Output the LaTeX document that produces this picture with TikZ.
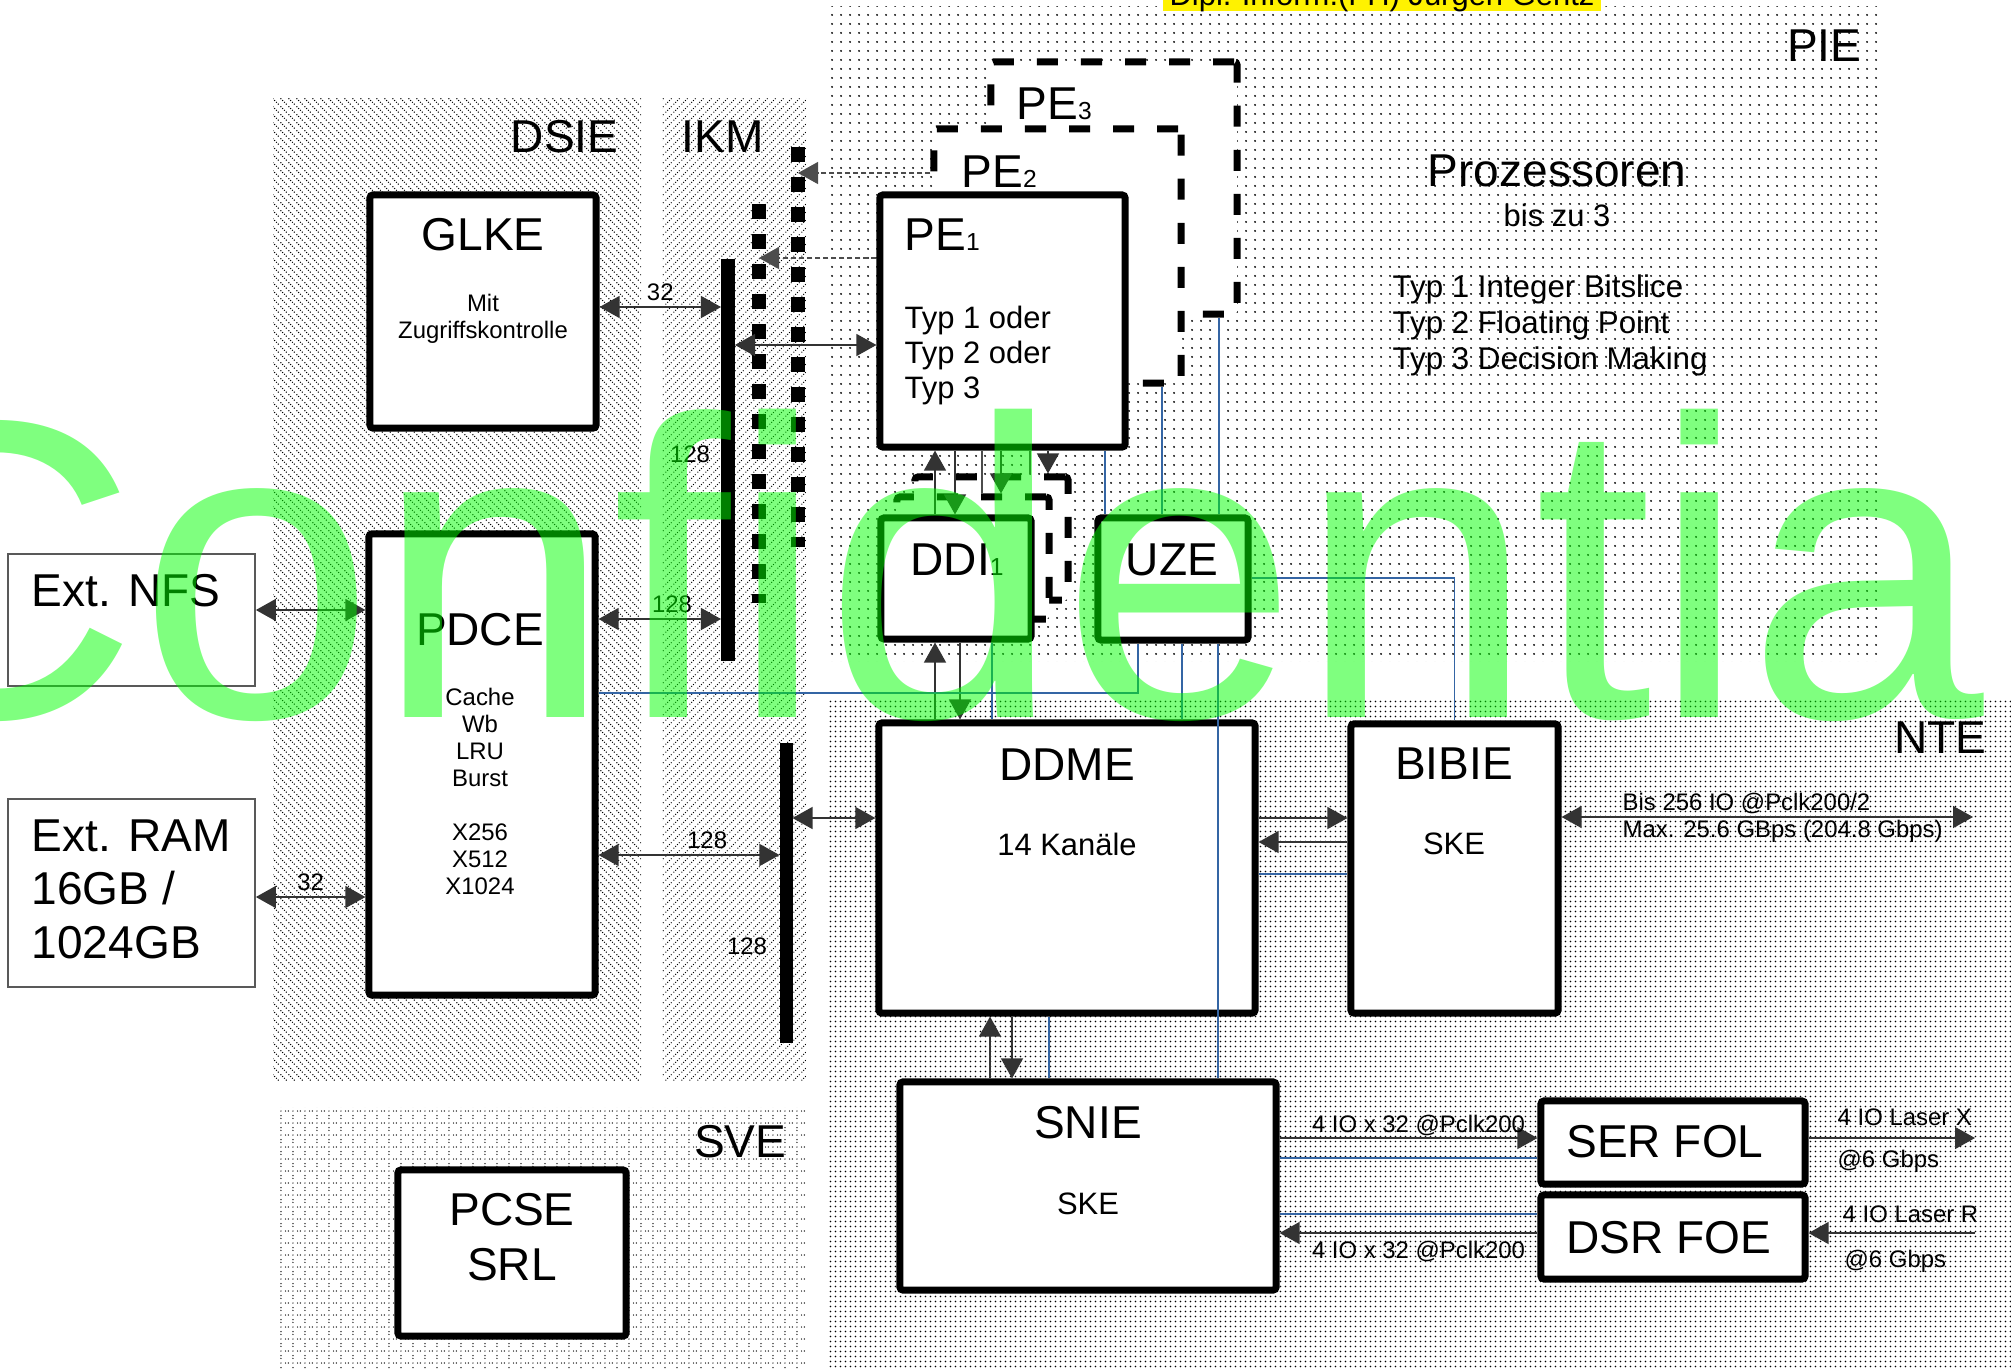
\documentclass[tikz,border=0pt]{standalone}
\usepackage{fontspec}
\setmainfont{Liberation Sans}
\usetikzlibrary{arrows.meta, patterns}
\definecolor{wireblue}{HTML}{3465A4}

% dot fills of the areas
\pgfdeclarepatternformonly{piedots}{\pgfqpoint{0pt}{0pt}}{\pgfqpoint{2.56pt}{2.56pt}}{\pgfqpoint{2.56pt}{2.56pt}}{%
  \pgfpathcircle{\pgfqpoint{1.28pt}{1.28pt}}{0.32pt}\pgfusepath{fill}}
\pgfdeclarepatternformonly{ntedots}{\pgfqpoint{0pt}{0pt}}{\pgfqpoint{1.42pt}{1.42pt}}{\pgfqpoint{1.42pt}{1.42pt}}{%
  \pgfpathcircle{\pgfqpoint{0.71pt}{0.71pt}}{0.26pt}\pgfusepath{fill}}
\pgfdeclarepatternformonly{dsiehatch}{\pgfqpoint{0pt}{0pt}}{\pgfqpoint{2.28pt}{2.28pt}}{\pgfqpoint{2.28pt}{2.28pt}}{%
  \pgfpathcircle{\pgfqpoint{0.28pt}{2.0pt}}{0.22pt}%
  \pgfpathcircle{\pgfqpoint{0.85pt}{1.43pt}}{0.22pt}%
  \pgfpathcircle{\pgfqpoint{1.42pt}{0.86pt}}{0.22pt}%
  \pgfpathcircle{\pgfqpoint{1.99pt}{0.29pt}}{0.22pt}%
  \pgfusepath{fill}}
\pgfdeclarepatternformonly{ikmhatch}{\pgfqpoint{0pt}{0pt}}{\pgfqpoint{2.28pt}{2.28pt}}{\pgfqpoint{2.28pt}{2.28pt}}{%
  \pgfpathcircle{\pgfqpoint{0.28pt}{0.28pt}}{0.22pt}%
  \pgfpathcircle{\pgfqpoint{0.85pt}{0.85pt}}{0.22pt}%
  \pgfpathcircle{\pgfqpoint{1.42pt}{1.42pt}}{0.22pt}%
  \pgfpathcircle{\pgfqpoint{1.99pt}{1.99pt}}{0.22pt}%
  \pgfusepath{fill}}
\pgfdeclarepatternformonly{svedots}{\pgfqpoint{0pt}{0pt}}{\pgfqpoint{3.4pt}{3.4pt}}{\pgfqpoint{3.4pt}{3.4pt}}{%
  \pgfpathcircle{\pgfqpoint{1.7pt}{0.4pt}}{0.2pt}%
  \pgfpathcircle{\pgfqpoint{3.0pt}{1.7pt}}{0.2pt}%
  \pgfpathcircle{\pgfqpoint{1.7pt}{3.0pt}}{0.2pt}%
  \pgfpathcircle{\pgfqpoint{0.4pt}{1.7pt}}{0.2pt}%
  \pgfpathcircle{\pgfqpoint{1.7pt}{1.7pt}}{0.2pt}%
  \pgfusepath{fill}}

\begin{document}
\begin{tikzpicture}[x=0.01cm, y=-0.01cm,
  box/.style={draw, line width=0.07cm, fill=white, rounded corners=0.03cm, inner sep=0},
  ghost/.style={box, dash pattern=on 0.21cm off 0.23cm},
  extbox/.style={draw=black!65, line width=0.45pt, fill=white, inner sep=0},
  busbar/.style={fill=black, inner sep=0, outer sep=0},
  bigtxt/.style={font=\fontsize{13.1}{15.2}\selectfont, inner sep=0},
  midtxt/.style={font=\fontsize{8.8}{10}\selectfont, inner sep=0},
  smalltxt/.style={font=\fontsize{6.8}{7.7}\selectfont, inner sep=0},
  link/.style={draw=black!80, line width=0.4pt, -{Triangle[length=2mm,width=2.2mm]}},
  duplex/.style={link, {Triangle[length=2mm,width=2.2mm]}-{Triangle[length=2mm,width=2.2mm]}},
  bare/.style={draw=black!70, line width=0.4pt},
  tap/.style={draw=black!70, line width=0.35pt, dash pattern=on 0.05cm off 0.03cm, -{Triangle[length=2mm,width=2.2mm]}},
  wire/.style={draw=wireblue, line width=0.35pt},
  dotbus/.style={line width=0.14cm, dash pattern=on 0.15cm off 0.15cm}]

\useasboundingbox (0,0) rectangle (2011,1369);

% areas
\fill[pattern=dsiehatch] (273,97) rectangle (641,1080);
\fill[pattern=ikmhatch] (662,97) rectangle (806,1080);
\fill[pattern=piedots] (828,6) rectangle (1881,661);
\fill[pattern=ntedots] (828,699) rectangle (2011,1369);
\fill[pattern=svedots] (280,1107) rectangle (807,1369);

\node[bigtxt, anchor=base east] (dsie) at (619,152) {DSIE};
\node[bigtxt, anchor=base west] (ikm) at (681,152) {IKM};
\node[bigtxt, anchor=base east] (pie) at (1862,61) {PIE};
\node[bigtxt, anchor=base east] (nte) at (1987,753) {NTE};
\node[bigtxt, anchor=base east] (sve) at (787,1157) {SVE};

% processors
\node[ghost, minimum width=2.46cm, minimum height=2.52cm] (pe3) at (1114,188) {};
\node[ghost, minimum width=2.47cm, minimum height=2.54cm] (pe2) at (1057.5,256) {};
\node[box, minimum width=2.45cm, minimum height=2.52cm] (pe1) at (1002.5,321) {};
\node[bigtxt, anchor=base west] (pe3t) at (1016,119) {PE{\fontsize{7}{8}\selectfont 3}};
\node[bigtxt, anchor=base west] (pe2t) at (961,187) {PE{\fontsize{7}{8}\selectfont 2}};
\node[bigtxt, anchor=base west] (pe1t) at (904,250) {PE{\fontsize{7}{8}\selectfont 1}};
\node[midtxt, anchor=north west, align=left] (pe1typ) at (904,305) {Typ 1 oder\\Typ 2 oder\\Typ 3};

\node[bigtxt, anchor=base] (proz) at (1557,186) {Prozessoren};
\node[midtxt, anchor=base] (upto) at (1557,226) {bis zu 3};
\node[midtxt, anchor=north west, align=left, font=\fontsize{8.9}{10.2}\selectfont] (types) at (1392,274)
  {Typ 1 Integer Bitslice\\Typ 2 Floating Point\\Typ 3 Decision Making};

% dotted buses of PE2 and PE3
\coordinate (colAtop) at (759,204);
\coordinate (colAbot) at (759,603);
\coordinate (colBtop) at (798,147);
\coordinate (colBbot) at (798,547);
\draw[dotbus] (colAtop) -- (colAbot);
\draw[dotbus] (colBtop) -- (colBbot);
\draw[tap] (pe1.west |- 0,258) -- (colAtop |- 0,258);
\draw[tap] (pe2.west |- 0,173) -- (colBtop |- 0,173);

% data paths
\node[ghost, minimum width=1.53cm, minimum height=1.23cm] (ddi3) at (991.5,538.5) {};
\node[ghost, minimum width=1.52cm, minimum height=1.22cm] (ddi2) at (973,558) {};
\node[box, minimum width=1.50cm, minimum height=1.21cm] (ddi1) at (956,578.5) {};
\node[bigtxt, anchor=base] (ddi1t) at (957,575) {DDI{\fontsize{7}{8}\selectfont 1}};
\node[box, minimum width=1.50cm, minimum height=1.22cm] (uze) at (1173,579) {};
\node[bigtxt, anchor=base] (uzet) at (1172,575) {UZE};

% memory side
\node[box, minimum width=2.26cm, minimum height=2.33cm] (glke) at (483,311.5) {};
\node[bigtxt, anchor=base] (glket) at (483,250) {GLKE};
\node[smalltxt, anchor=north, align=center] (glkes) at (483,293) {Mit\\Zugriffskontrolle};
\node[box, minimum width=2.26cm, minimum height=4.61cm] (pdce) at (482,764.5) {};
\node[bigtxt, anchor=base] (pdcet) at (480,645) {PDCE};
\node[smalltxt, anchor=north, align=center] (pdces) at (480,687)
  {Cache\\Wb\\LRU\\Burst\\[7.7pt]X256\\X512\\X1024};
\node[extbox, minimum width=2.47cm, minimum height=1.32cm] (nfs) at (131.5,620) {};
\node[bigtxt, anchor=base west] (nfst) at (31,606) {Ext. NFS};
\node[extbox, minimum width=2.47cm, minimum height=1.88cm] (ram) at (131.5,893) {};
\node[bigtxt, anchor=north west, align=left] (ramt) at (31,819) {Ext. RAM\\16GB /\\1024GB};
\node[busbar, minimum width=0.14cm, minimum height=4.02cm] (bus1) at (728,460) {};
\node[busbar, minimum width=0.13cm, minimum height=3cm] (bus2) at (786,893) {};
\node[box, minimum width=2.28cm, minimum height=1.66cm] (pcse) at (512,1253) {};
\node[bigtxt, anchor=north, align=center, font=\fontsize{13.1}{15.4}\selectfont] (pcset) at (512,1193) {PCSE\\SRL};

% network side
\node[box, minimum width=3.76cm, minimum height=2.9cm] (ddme) at (1067,868) {};
\node[bigtxt, anchor=base] (ddmet) at (1067,780) {DDME};
\node[midtxt, anchor=base] (ddmes) at (1067,855) {14 Kanäle};
\node[box, minimum width=2.07cm, minimum height=2.89cm] (bibie) at (1454.5,868.5) {};
\node[bigtxt, anchor=base] (bibiet) at (1454,779) {BIBIE};
\node[midtxt, anchor=base] (bibies) at (1454,854) {SKE};
\node[box, minimum width=3.76cm, minimum height=2.08cm] (snie) at (1088,1186) {};
\node[bigtxt, anchor=base] (sniet) at (1088,1138) {SNIE};
\node[midtxt, anchor=base] (snies) at (1088,1214) {SKE};
\node[box, minimum width=2.64cm, minimum height=0.83cm] (serfol) at (1673,1142.5) {};
\node[bigtxt, anchor=base] (serfolt) at (1665,1157) {SER FOL};
\node[box, minimum width=2.64cm, minimum height=0.84cm] (dsrfoe) at (1673,1237) {};
\node[bigtxt, anchor=base] (dsrfoet) at (1669,1253) {DSR FOE};

\coordinate (bibieOut) at (1973,817);
\coordinate (laserX) at (1975,1138);
\coordinate (laserR) at (1975,1233);

% connectors
\draw[duplex] (nfs.east |- 0,610) -- (pdce.west |- 0,610);
\draw[duplex] (ram.east |- 0,897) -- node[smalltxt, above=1.5pt] (w32r) {32} (pdce.west |- 0,897);
\draw[duplex] (glke.east |- 0,307) -- node[smalltxt, above=1.5pt] (w32g) {32} (bus1.west |- 0,307);
\draw[duplex] (pdce.east |- 0,619) -- node[smalltxt, above=1.5pt, pos=0.6] (w128a) {128} (bus1.west |- 0,619);
\draw[duplex] (pdce.east |- 0,855) -- node[smalltxt, above=1.5pt, pos=0.6] (w128b) {128} (bus2.west |- 0,855);
\draw[duplex] (bus1.east |- 0,345) -- (pe1.west |- 0,345);
\draw[duplex] (bus2.east |- 0,818) -- (ddme.west |- 0,818);
\node[smalltxt, anchor=base] (w128c) at (690,462) {128};
\node[smalltxt, anchor=base] (w128d) at (747,954) {128};

\draw[link] (ddi1.north -| 935,0) -- (pe1.south -| 935,0);
\draw[link] (pe1.south -| 955,0) -- (ddi1.north -| 955,0);
\draw[bare] (pe1.south -| 982,0) -- (ddi2.north -| 982,0);
\draw[link] (pe1.south -| 1001,0) -- (ddi2.north -| 1001,0);
\draw[bare] (pe1.south -| 1030,0) -- (ddi3.north -| 1030,0);
\draw[link] (pe1.south -| 1048,0) -- (ddi3.north -| 1048,0);
\draw[link] (ddme.north -| 935,0) -- (ddi1.south -| 935,0);
\draw[link] (ddi1.south -| 960,0) -- (ddme.north -| 960,0);

\draw[link] (ddme.east |- 0,818) -- (bibie.west |- 0,818);
\draw[link] (bibie.west |- 0,842) -- (ddme.east |- 0,842);
\draw[duplex] (bibie.east |- 0,817) -- (bibieOut);
\node[smalltxt, anchor=base west] (bisio) at (1622,810) {Bis 256 IO @Pclk200/2};
\node[smalltxt, anchor=base west] (maxio) at (1622,837) {Max. 25.6 GBps (204.8 Gbps)};

\draw[link] (snie.north -| 990,0) -- (ddme.south -| 990,0);
\draw[link] (ddme.south -| 1012,0) -- (snie.north -| 1012,0);
\draw[link] (snie.east |- 0,1138) -- node[smalltxt, above=0.4pt, xshift=0.1cm] (io32a) {4 IO x 32 @Pclk200} (serfol.west |- 0,1138);
\draw[link] (dsrfoe.west |- 0,1233) -- node[smalltxt, below=2pt, xshift=0.1cm] (io32b) {4 IO x 32 @Pclk200} (snie.east |- 0,1233);
\draw[link] (serfol.east |- 0,1138) -- (laserX);
\draw[link] (laserR) -- (dsrfoe.east |- 0,1233);
\node[smalltxt, anchor=base west] (lasx) at (1837,1125) {4 IO Laser X};
\node[smalltxt, anchor=base west] (gbx) at (1837,1167) {@6 Gbps};
\node[smalltxt, anchor=base west] (lasr) at (1842,1222) {4 IO Laser R};
\node[smalltxt, anchor=base west] (gbr) at (1844,1267) {@6 Gbps};

% thin control wires
\draw[wire] (pdce.east |- 0,693) -- (1138,693) -- (uze.south -| 1138,0);
\draw[wire] (ddi1.south -| 992,0) -- (ddme.north -| 992,0);
\draw[wire] (uze.south -| 1182,0) -- (ddme.north -| 1182,0);
\draw[wire] (uze.south -| 1218,0) -- (snie.north -| 1218,0);
\draw[wire] (uze.east |- 0,578) -- (bibie.north |- 0,578) -- (bibie.north);
\draw[wire] (ddme.east |- 0,874) -- (bibie.west |- 0,874);
\draw[wire] (ddme.south -| 1049,0) -- (snie.north -| 1049,0);
\draw[wire] (pe1.south -| 1105,0) -- (uze.north -| 1105,0);
\draw[wire] (pe2.south -| 1162,0) -- (uze.north -| 1162,0);
\draw[wire] (pe3.south -| 1219,0) -- (uze.north -| 1219,0);
\draw[wire] (snie.east |- 0,1158) -- (serfol.west |- 0,1158);
\draw[wire] (snie.east |- 0,1214) -- (dsrfoe.west |- 0,1214);

% watermark and author line
\begin{scope}
\clip (0,0) rectangle (2011,1369);
\node[anchor=base west, inner sep=0, text=green, text opacity=0.5, font=\fontsize{121}{130}\selectfont] (mark) at (-169,717) {Confidentia};
\node[midtxt, fill=yellow, inner xsep=2pt, anchor=base] (author) at (1382,5) {Dipl.-Inform.(FH) Jürgen Gentz};
\end{scope}

\end{tikzpicture}
\end{document}
